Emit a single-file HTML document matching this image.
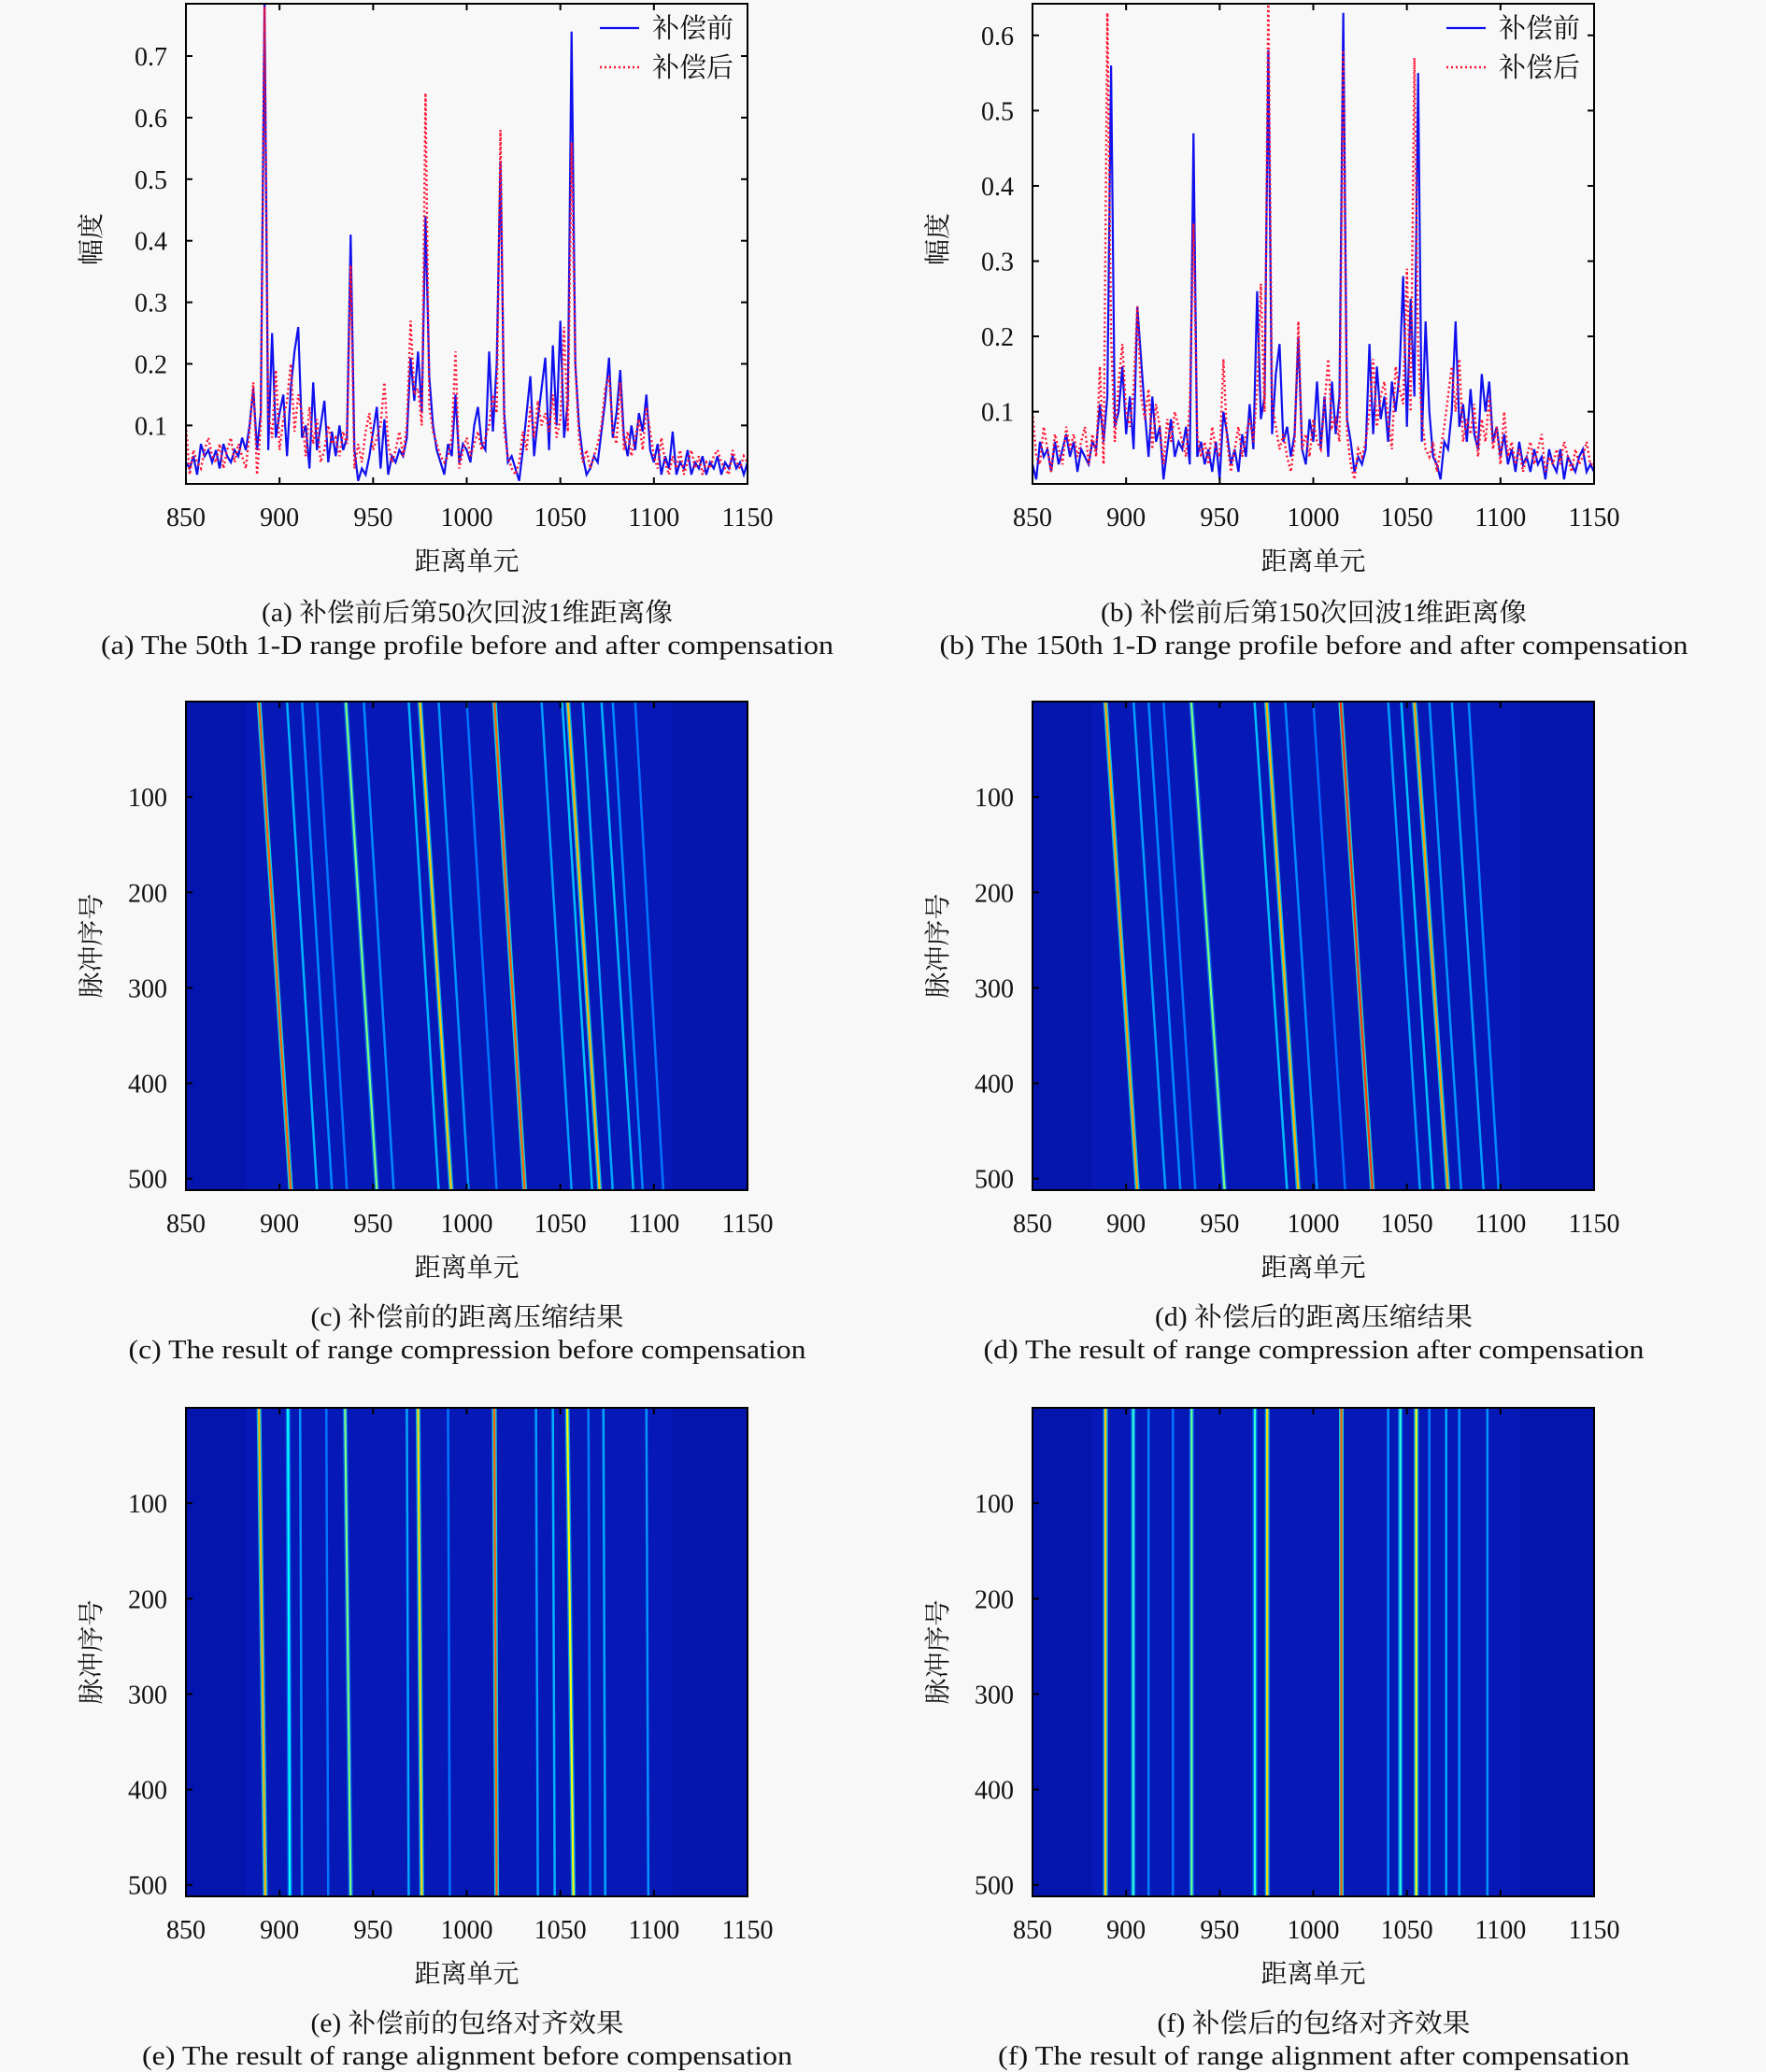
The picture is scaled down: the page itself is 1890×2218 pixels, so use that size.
<!DOCTYPE html>
<html><head><meta charset="utf-8"><style>
html,body{margin:0;padding:0;background:#f8f8f8;}
svg{display:block;}
text{font-family:"Liberation Serif","Noto Serif CJK SC",serif;fill:#111;}
</style></head><body>
<svg id="fig" width="1890" height="2218" viewBox="0 0 1890 2218" xmlns="http://www.w3.org/2000/svg">
<rect x="0" y="0" width="1890" height="2218" fill="#f8f8f8"/>
</svg>
<script>
// ---------- data: range profiles (x = 850 + 2*i) ----------
const xStart = 850, xStep = 2;
const xTicks = [850,900,950,1000,1050,1100,1150];
const aTicks = [0.1,0.2,0.3,0.4,0.5,0.6,0.7];
const bTicks = [0.1,0.2,0.3,0.4,0.5,0.6];
const rowTicks = [100,200,300,400,500];
const legendLabels = ["补偿前","补偿后"];

const aBefore = [
.04,.03,.05,.02,.07,.05,.06,.04,.06,.03,
.07,.05,.04,.06,.05,.08,.06,.10,.16,.06,
.12,.79,.06,.25,.08,.12,.15,.05,.16,.22,
.26,.08,.10,.03,.17,.06,.10,.14,.04,.09,
.05,.10,.06,.08,.41,.06,.01,.03,.02,.05,
.09,.13,.03,.11,.02,.05,.04,.06,.05,.08,
.21,.14,.22,.12,.44,.18,.10,.06,.04,.02,
.07,.05,.15,.04,.07,.06,.04,.10,.13,.07,
.06,.22,.09,.20,.53,.12,.04,.05,.03,.01,
.06,.12,.18,.05,.11,.16,.21,.06,.23,.10,
.27,.08,.14,.74,.20,.10,.05,.02,.03,.05,
.04,.09,.14,.21,.08,.12,.19,.08,.05,.10,
.06,.12,.09,.15,.06,.04,.07,.02,.05,.03,
.09,.02,.04,.03,.06,.02,.04,.03,.05,.02,
.04,.03,.05,.02,.04,.03,.05,.03,.04,.02,
.04];
const aAfter = [
.10,.02,.06,.04,.03,.06,.08,.05,.04,.07,
.03,.06,.08,.04,.07,.05,.03,.09,.17,.02,
.10,.78,.12,.08,.19,.06,.11,.14,.20,.09,
.15,.12,.05,.13,.07,.11,.04,.06,.10,.07,
.08,.05,.09,.07,.36,.03,.07,.04,.09,.12,
.06,.08,.10,.17,.07,.04,.06,.09,.05,.10,
.27,.15,.16,.10,.64,.13,.09,.07,.05,.04,
.05,.08,.22,.03,.06,.08,.05,.07,.09,.06,
.08,.10,.15,.12,.58,.09,.05,.03,.02,.04,
.09,.06,.13,.08,.14,.10,.12,.09,.15,.08,
.11,.26,.09,.56,.20,.08,.04,.06,.03,.05,
.07,.10,.16,.18,.09,.07,.17,.06,.09,.05,
.08,.11,.06,.13,.09,.05,.03,.08,.04,.02,
.05,.03,.06,.02,.04,.06,.03,.05,.02,.04,
.03,.05,.06,.04,.03,.02,.06,.04,.03,.05,
.04];
const bBefore = [
.03,.01,.06,.04,.05,.02,.06,.03,.05,.07,
.04,.06,.02,.05,.04,.03,.06,.05,.11,.06,
.12,.56,.08,.10,.16,.07,.12,.05,.24,.17,
.10,.04,.12,.06,.08,.01,.05,.09,.04,.06,
.05,.08,.03,.47,.04,.06,.03,.05,.02,.06,
.01,.10,.07,.03,.05,.02,.07,.04,.11,.05,
.26,.09,.12,.58,.07,.15,.19,.06,.08,.04,
.07,.20,.05,.03,.09,.06,.14,.05,.12,.04,
.14,.07,.12,.63,.09,.06,.02,.04,.03,.05,
.19,.07,.16,.09,.12,.06,.14,.10,.15,.28,
.08,.25,.12,.55,.06,.22,.10,.04,.03,.01,
.06,.05,.10,.22,.08,.11,.06,.13,.07,.05,
.15,.10,.14,.06,.08,.04,.07,.03,.05,.02,
.06,.03,.04,.02,.05,.03,.04,.01,.05,.03,
.02,.05,.01,.04,.03,.02,.04,.05,.02,.03,
.02];
const bAfter = [
.10,.04,.03,.08,.05,.02,.07,.05,.03,.08,
.05,.07,.04,.06,.08,.03,.07,.04,.16,.03,
.63,.20,.06,.14,.19,.10,.08,.13,.24,.12,
.09,.13,.05,.11,.08,.03,.09,.06,.10,.08,
.06,.04,.11,.35,.07,.04,.06,.03,.08,.05,
.04,.17,.06,.02,.05,.08,.04,.07,.09,.06,
.13,.27,.10,.66,.11,.08,.05,.07,.04,.02,
.06,.22,.05,.07,.04,.09,.06,.05,.11,.17,
.08,.09,.06,.58,.07,.03,.01,.05,.04,.06,
.10,.17,.08,.12,.14,.09,.05,.16,.13,.11,
.29,.10,.57,.18,.09,.05,.04,.06,.02,.05,
.08,.12,.16,.10,.17,.06,.09,.07,.11,.04,
.09,.06,.12,.05,.08,.03,.10,.04,.06,.03,
.05,.02,.04,.06,.03,.05,.07,.02,.04,.03,
.05,.03,.06,.04,.02,.05,.03,.04,.06,.03,
.03];

// ---------- data: heatmap scatterer tracks (range cell at pulse 0 / pulse 512, level 0..1) ----------
const cStart = [889,935.4,975,1014.8,1054, 904,912,920,945,969,985,1000,1040,1051,1062,1072,1078,1090];
const cEnd   = [906,952,991.7,1031,1071, 920,928,936,961,985,1001,1016,1056,1067,1078,1089,1094,1105];
const cLevel = [0.78,0.5,0.68,0.78,0.7, 0.3,0.26,0.24,0.26,0.3,0.27,0.24,0.28,0.31,0.29,0.3,0.26,0.24];
const dStart = [889,934.8,975,1014.6,1054, 904,912,920,968.6,985,1000,1040,1047,1062,1074,1083];
const dEnd   = [906,952.6,992,1031.6,1072, 921,929,937,986,1002,1017,1057,1064,1079,1091,1099];
const dLevel = [0.72,0.5,0.7,0.82,0.72, 0.28,0.26,0.24,0.31,0.26,0.23,0.28,0.31,0.27,0.28,0.26];
const eStart = [889,904.5,935,974,1014.7,1053.7, 911,925,968,990,1037,1046,1065,1073,1096];
const eEnd   = [892.4,905.5,938,976,1016,1057, 912,926,969,991,1038,1047,1066,1074,1097];
const eLevel = [0.7,0.38,0.5,0.66,0.78,0.62, 0.27,0.24,0.29,0.24,0.28,0.3,0.25,0.29,0.27];
const fStart = [889,903.8,935,968.8,975.4,1015,1046.5,1055,1071,1078,1093, 912,925,1040,1062];
const fEnd   = [889,903.8,935,968.8,975.4,1015,1046.5,1055,1071,1078,1093, 912,925,1040,1062];
const fLevel = [0.68,0.42,0.48,0.42,0.66,0.78,0.42,0.62,0.29,0.27,0.27, 0.25,0.24,0.27,0.25];

const NS = "http://www.w3.org/2000/svg";
const svg = document.getElementById("fig");
function el(tag, attrs, parent){
  const e = document.createElementNS(NS, tag);
  for (const k in attrs) e.setAttribute(k, attrs[k]);
  (parent||svg).appendChild(e);
  return e;
}
function txt(s, x, y, size, anchor, parent){
  const t = el("text", {x:x, y:y, "font-size":size, "text-anchor":anchor||"middle"}, parent);
  t.textContent = s;
  return t;
}
function jet(v){
  const c = x => Math.max(0, Math.min(1, x));
  const r = c(1.5 - Math.abs(4*v - 3)), g = c(1.5 - Math.abs(4*v - 2)), b = c(1.5 - Math.abs(4*v - 1));
  return `rgb(${Math.round(r*255)},${Math.round(g*255)},${Math.round(b*255)})`;
}

function xAxisFn(L, R){ return v => L + (v - 850) / 300 * (R - L); }

function drawXAxis(g, L, R, T, B, labelY, titleY){
  const X = xAxisFn(L, R);
  xTicks.forEach(v => {
    const tk = el("line", {x1:X(v), x2:X(v), y1:B, y2:B-7, stroke:"#000", "stroke-width":2}, g);
    
    
    const tt = el("line", {x1:X(v), x2:X(v), y1:T, y2:T+7, stroke:"#000", "stroke-width":2}, g);
    
    
    const t = txt(String(v), X(v), labelY, 28, "middle", g);
    
    
  });
  const ti = txt("距离单元", (L+R)/2, titleY, 28, "middle", g);
  
  
}

function drawCaptions(g, cx, y1, y2, zh, en, zhW, enW){
  const a = txt(zh, cx, y1, 28, "middle", g);
  a.setAttribute("textLength", zhW); a.setAttribute("lengthAdjust", "spacingAndGlyphs");
  
  
  const b = txt(en, cx, y2, 28, "middle", g);
  b.setAttribute("textLength", enW); b.setAttribute("lengthAdjust", "spacingAndGlyphs");
  
  
}

function profilePanel(name, L, R, T, B, yMin, yMax, yTicks, before, after, cap){
  const g = el("g", {}); 
  
  
  const X = xAxisFn(L, R);
  const Y = v => B - (v - yMin) / (yMax - yMin) * (B - T);
  el("rect", {x:L, y:T, width:R-L, height:B-T, fill:"#f8f8f8"}, g);
  const clipId = name + "-clip";
  const cp = el("clipPath", {id:clipId}, g);
  el("rect", {x:L, y:T, width:R-L, height:B-T}, cp);
  const ptsA = after.map((v,i) => `${X(xStart+xStep*i).toFixed(1)},${Y(v).toFixed(1)}`).join(" ");
  const ptsB = before.map((v,i) => `${X(xStart+xStep*i).toFixed(1)},${Y(v).toFixed(1)}`).join(" ");
  const lb = el("polyline", {points:ptsB, fill:"none", stroke:"#1010ee", "stroke-width":2.2, "clip-path":`url(#${clipId})`}, g);
  
  
  const la = el("polyline", {points:ptsA, fill:"none", stroke:"#ff1030", "stroke-width":2.4, "stroke-dasharray":"2 3", "clip-path":`url(#${clipId})`}, g);
  
  
  el("rect", {x:L, y:T, width:R-L, height:B-T, fill:"none", stroke:"#000", "stroke-width":2}, g);
  yTicks.forEach(v => {
    const tk = el("line", {x1:L, x2:L+7, y1:Y(v), y2:Y(v), stroke:"#000", "stroke-width":2}, g);
    
    
    const tr = el("line", {x1:R, x2:R-7, y1:Y(v), y2:Y(v), stroke:"#000", "stroke-width":2}, g);
    
    
    const t = txt(v.toFixed(1), L-20, Y(v)+10, 28, "end", g);
    
    
  });
  const yt = txt("幅度", 0, 0, 28, "middle", g);
  yt.setAttribute("transform", `translate(${L-92},${(T+B)/2-5}) rotate(-90)`);
  
  
  drawXAxis(g, L, R, T, B, 563, 610);
  const lg = el("g", {}, g);
  
  
  el("line", {x1:R-158, x2:R-116, y1:30, y2:30, stroke:"#1010ee", "stroke-width":2.2}, lg);
  el("line", {x1:R-158, x2:R-116, y1:72, y2:72, stroke:"#ff1030", "stroke-width":2.4, "stroke-dasharray":"2 3"}, lg);
  const l1 = txt(legendLabels[0], R-102, 40, 29, "start", lg);
  
  
  const l2 = txt(legendLabels[1], R-102, 82, 29, "start", lg);
  
  
  drawCaptions(g, cap[0], 665, 700, cap[1], cap[2], cap[3], cap[4]);
}

function heatPanel(name, L, R, T, B, starts, ends, levels, labelY, titleY, c1, c2, cap){
  const g = el("g", {});
  
  
  const X = xAxisFn(L, R);
  const rowMax = 512;
  const Yr = r => T + r / rowMax * (B - T);
  const clipId = name + "-clip";
  const cp = el("clipPath", {id:clipId}, g);
  el("rect", {x:L, y:T, width:R-L, height:B-T}, cp);
  const inner = el("g", {"clip-path":`url(#${clipId})`}, g);
  el("rect", {x:L, y:T, width:R-L, height:B-T, fill:"#0614ae"}, inner);
  el("rect", {x:X(882), y:T, width:X(1110)-X(882), height:B-T, fill:"#0a22c8", opacity:0.35}, inner);
  starts.forEach((s, i) => {
    const e = ends[i], lv = levels[i];
    if (lv > 0.35) {
      const glow = el("line", {x1:X(s), y1:Yr(0), x2:X(e), y2:Yr(rowMax), stroke:jet(Math.max(0.25, lv*0.5)), "stroke-width":5, opacity:0.8}, inner);
      
      
    }
    const core = el("line", {x1:X(s), y1:Yr(0), x2:X(e), y2:Yr(rowMax), stroke:jet(lv), "stroke-width": lv > 0.35 ? 2.2 : 2.5}, inner);
    
    
  });
  el("rect", {x:L, y:T, width:R-L, height:B-T, fill:"none", stroke:"#000", "stroke-width":2}, g);
  rowTicks.forEach(v => {
    const tk = el("line", {x1:L, x2:L+7, y1:Yr(v), y2:Yr(v), stroke:"#000", "stroke-width":2}, g);
    
    
    const t = txt(String(v), L-20, Yr(v)+10, 28, "end", g);
    
    
  });
  const yt = txt("脉冲序号", 0, 0, 28, "middle", g);
  yt.setAttribute("transform", `translate(${L-92},${(T+B)/2}) rotate(-90)`);
  
  
  drawXAxis(g, L, R, T, B, labelY, titleY);
  drawCaptions(g, cap[0], c1, c2, cap[1], cap[2], cap[3], cap[4]);
}

profilePanel("panel-a", 199, 800, 4, 518, 0.005, 0.785, aTicks, aBefore, aAfter,
  [500, "(a) 补偿前后第50次回波1维距离像", "(a) The 50th 1-D range profile before and after compensation", 440, 784]);
profilePanel("panel-b", 1105, 1706, 4, 518, 0.004, 0.642, bTicks, bBefore, bAfter,
  [1406, "(b) 补偿前后第150次回波1维距离像", "(b) The 150th 1-D range profile before and after compensation", 456, 801]);
heatPanel("panel-c", 199, 800, 751, 1274, cStart, cEnd, cLevel, 1319, 1366, 1419, 1454,
  [500, "(c) 补偿前的距离压缩结果", "(c) The result of range compression before compensation", 335, 725]);
heatPanel("panel-d", 1105, 1706, 751, 1274, dStart, dEnd, dLevel, 1319, 1366, 1419, 1454,
  [1406, "(d) 补偿后的距离压缩结果", "(d) The result of range compression after compensation", 340, 707]);
heatPanel("panel-e", 199, 800, 1507, 2030, eStart, eEnd, eLevel, 2075, 2122, 2175, 2210,
  [500, "(e) 补偿前的包络对齐效果", "(e) The result of range alignment before compensation", 335, 696]);
heatPanel("panel-f", 1105, 1706, 1507, 2030, fStart, fEnd, fLevel, 2075, 2122, 2175, 2210,
  [1406, "(f) 补偿后的包络对齐效果", "(f) The result of range alignment after compensation", 335, 676]);
</script>
</body></html>
